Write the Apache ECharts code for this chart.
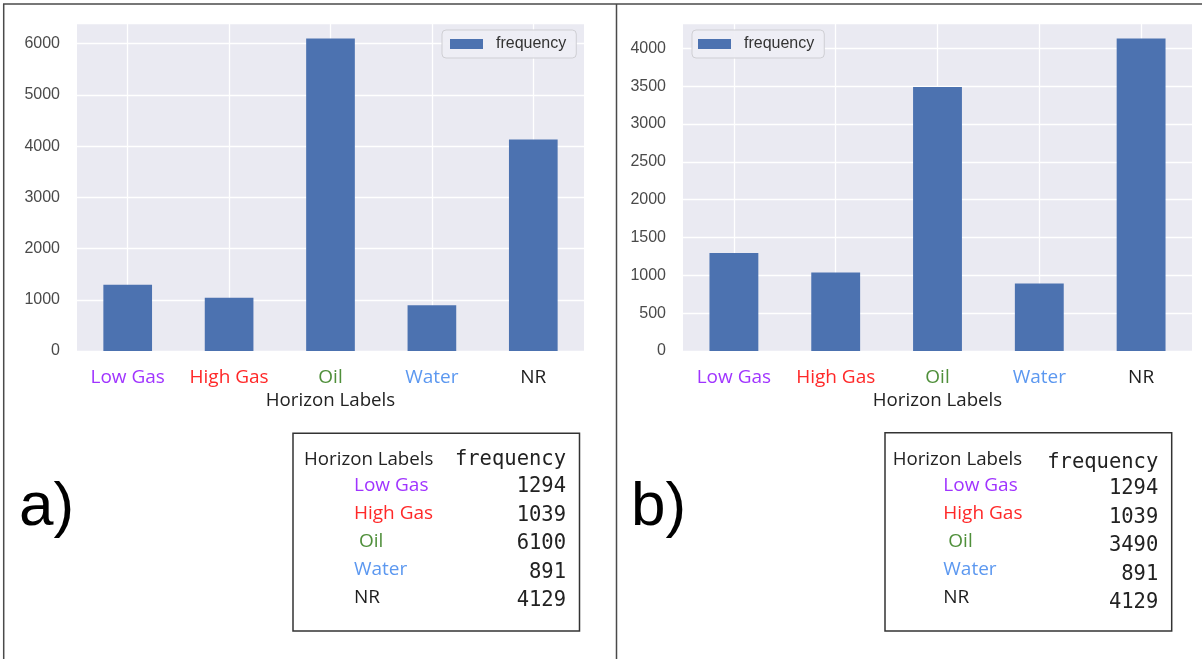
<!DOCTYPE html>
<html>
<head>
<meta charset="utf-8">
<script src="https://cdn.jsdelivr.net/npm/echarts@6/dist/echarts.min.js"></script>
<style>
html,body{margin:0;padding:0;background:#fff;}
#chart{width:1202px;height:659px;}
</style>
</head>
<body>
<div id="chart"></div>
<script>
// ---- data ----
const categories = ['Low Gas', 'High Gas', 'Oil', 'Water', 'NR'];
const labelColors = ['#A034FF', '#FF2828', '#4F8F3A', '#5C98F0', '#1E1E1E'];
const freqA = [1294, 1039, 6100, 891, 4129];
const freqB = [1294, 1039, 3490, 891, 4129];
const seriesName = 'frequency';
const axisTitle = 'Horizon Labels';
const panelTags = ['a)', 'b)'];

// ---- styles ----
const BAR = '#4C72B0';
const BG = '#EAEAF2';
const catFont = 'Open Sans';
const tickFont = 'Liberation Sans';

const chart = echarts.init(document.getElementById('chart'), null, {renderer: 'canvas'});

function xAxisFor(gi) {
  return {
    type: 'category', gridIndex: gi, data: categories,
    axisLine: {show: false}, axisTick: {show: false}, splitLine: {show: false},
    axisLabel: {
      interval: 0, margin: 17, fontSize: 19, fontFamily: catFont, lineHeight: 19,
      color: (v, i) => labelColors[categories.indexOf(v)]
    },
    name: axisTitle, nameLocation: 'middle', nameGap: 40,
    nameTextStyle: {fontSize: 18.7, fontFamily: catFont, color: '#222'}
  };
}
function yAxisFor(gi, max, interval) {
  return {
    type: 'value', gridIndex: gi, min: 0, max: max, interval: interval,
    axisLine: {show: false}, axisTick: {show: false},
    splitLine: {show: true, lineStyle: {color: '#fff', width: 1.3}},
    axisLabel: {margin: 17, fontSize: 16, fontFamily: tickFont, color: '#4a4a4a', showMaxLabel: false,
      formatter: v => String(v)}
  };
}
function barSeries(gi, data) {
  return {
    name: seriesName, type: 'bar', xAxisIndex: gi, yAxisIndex: gi,
    data: data, barWidth: '48%', itemStyle: {color: BAR}, z: 3,
    emphasis: {disabled: true}
  };
}
function vGridSeries(gi) {
  return {
    type: 'line', xAxisIndex: gi, yAxisIndex: gi, data: [], z: 1, silent: true,
    markLine: {
      z: 1, silent: true, symbol: ['none', 'none'], label: {show: false},
      lineStyle: {color: '#fff', width: 1.3, type: 'solid'},
      emphasis: {disabled: true},
      data: categories.map(c => ({xAxis: c}))
    }
  };
}

// ---- tables (built from the data arrays) ----
function tableGraphics(box, hdr, lblX, lblY0, lblStep, numX, numY0, numStep, freqHdrY, values) {
  const g = [];
  g.push({type: 'rect', shape: {x: box[0], y: box[1], width: box[2], height: box[3]},
    style: {fill: 'none', stroke: '#333', lineWidth: 1.5}, silent: true});
  g.push({type: 'text', x: hdr, y: 459.3, silent: true,
    style: {text: axisTitle, font: '18.7px "Open Sans"', fill: '#222', align: 'left', verticalAlign: 'middle'}});
  g.push({type: 'text', x: numX, y: freqHdrY, silent: true,
    style: {text: seriesName, font: '20.5px "DejaVu Sans Mono"', fill: '#222', align: 'right', verticalAlign: 'middle'}});
  categories.forEach((c, i) => {
    g.push({type: 'text', x: lblX + (c === 'Oil' ? 5 : 0), y: lblY0 + i * lblStep, silent: true,
      style: {text: c, font: '19px "Open Sans"', fill: labelColors[i], align: 'left', verticalAlign: 'middle'}});
    g.push({type: 'text', x: numX, y: numY0 + i * numStep, silent: true,
      style: {text: String(values[i]), font: '20.5px "DejaVu Sans Mono"', fill: '#222', align: 'right', verticalAlign: 'middle'}});
  });
  return g;
}

const frame = [
  {type: 'line', shape: {x1: 3, y1: 4, x2: 1202, y2: 4}, style: {stroke: '#4a4a4a', lineWidth: 1.5}, silent: true},
  {type: 'line', shape: {x1: 3.7, y1: 4, x2: 3.7, y2: 659}, style: {stroke: '#4a4a4a', lineWidth: 1.5}, silent: true},
  {type: 'line', shape: {x1: 616.5, y1: 4, x2: 616.5, y2: 659}, style: {stroke: '#4a4a4a', lineWidth: 1.5}, silent: true},
  {type: 'text', x: 19, y: 477, silent: true,
    style: {text: panelTags[0], font: '62px "Liberation Sans"', fill: '#000', align: 'left', verticalAlign: 'alphabetic'}},
  {type: 'text', x: 631, y: 477, silent: true,
    style: {text: panelTags[1], font: '62px "Liberation Sans"', fill: '#000', align: 'left', verticalAlign: 'alphabetic'}}
];

const graphics = frame
  .concat(tableGraphics([293, 433.3, 286.5, 197.7], 304, 354, 486, 27.9, 566, 486.7, 28.5, 459.3, freqA))
  .concat(tableGraphics([885, 432.7, 286.7, 198.3], 892.7, 943.3, 486, 27.9, 1158.3, 489, 28.4, 462.7, freqB));

const legendCommon = {
  data: [seriesName], orient: 'horizontal', icon: 'rect', itemWidth: 33, itemHeight: 10,
  backgroundColor: 'rgba(238,238,244,0.95)', borderColor: '#cfcfd4', borderWidth: 1, borderRadius: 4,
  textStyle: {fontSize: 16, fontFamily: tickFont, color: '#333', padding: [0, 0, 0, 8]},
  selectedMode: false
};

const option = {
  animation: false,
  grid: [
    {left: 77, top: 23, width: 507, height: 328, show: true, backgroundColor: BG, borderWidth: 0},
    {left: 683, top: 23, width: 509, height: 328, show: true, backgroundColor: BG, borderWidth: 0}
  ],
  xAxis: [xAxisFor(0), xAxisFor(1)],
  yAxis: [
    yAxisFor(0, Math.max(...freqA) * 1.05, 1000),
    yAxisFor(1, Math.max(...freqB) * 1.05, 500)
  ],
  legend: [
    Object.assign({}, legendCommon, {left: 442, top: 30, padding: [6, 10, 6, 8]}),
    Object.assign({}, legendCommon, {left: 692, top: 30, padding: [6, 10, 6, 6]})
  ],
  series: [vGridSeries(0), barSeries(0, freqA), vGridSeries(1), barSeries(1, freqB)],
  graphic: graphics
};
chart.setOption(option);
</script>
</body>
</html>
